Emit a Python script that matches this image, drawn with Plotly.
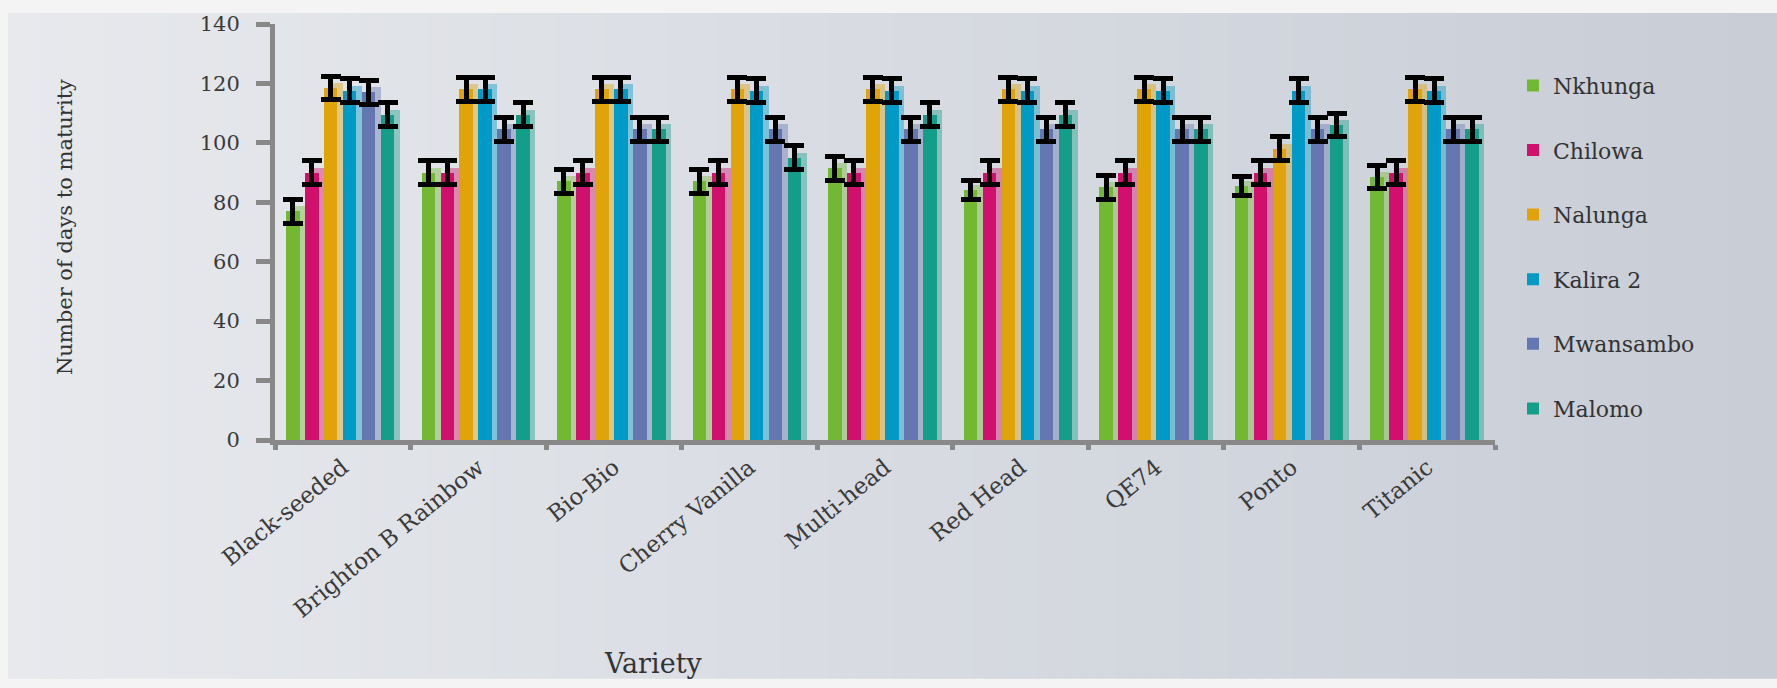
import plotly.graph_objects as go

# Varieties on the x axis
varieties = ["Black-seeded", "Brighton B Rainbow", "Bio-Bio", "Cherry Vanilla",
             "Multi-head", "Red Head", "QE74", "Ponto", "Titanic"]

# Days to maturity per site (mean) and error half-widths
nkhunga = [77, 90, 87, 87, 91.5, 84, 85, 85.5, 88.5]
chilowa = [90, 90, 90, 90, 90, 90, 90, 90, 90]
nalunga = [118.5, 118, 118, 118, 118, 118, 118, 98, 118]
kalira2 = [117.5, 118, 118, 117.5, 117.5, 117.5, 117.5, 117.5, 117.5]
mwansambo = [117, 104.5, 104.5, 104.5, 104.5, 104.5, 104.5, 104.5, 104.5]
malomo = [109.5, 109.5, 104.5, 95, 109.5, 109.5, 104.5, 106, 104.5]

err_nkhunga = [4, 4, 4, 4, 4, 3.2, 4, 3.2, 4]
err_chilowa = [4, 4, 4, 4, 4, 4, 4, 4, 4]
err_nalunga = [4, 4, 4, 4, 4, 4, 4, 4, 4]
err_kalira2 = [4, 4, 4, 4, 4, 4, 4, 4, 4]
err_mwansambo = [4, 4, 4, 4, 4, 4, 4, 4, 4]
err_malomo = [4, 4, 4, 4, 4, 4, 4, 4, 4]

sites = ["Nkhunga", "Chilowa", "Nalunga", "Kalira 2", "Mwansambo", "Malomo"]
values = [nkhunga, chilowa, nalunga, kalira2, mwansambo, malomo]
errors = [err_nkhunga, err_chilowa, err_nalunga, err_kalira2, err_mwansambo, err_malomo]
colors = ["#72b833", "#d0106c", "#e1a30a", "#009ac6", "#6577b0", "#149e8a"]

W, H = 1777, 688
L, R, T, B = 275, 282, 20, 248
PW, PH = W - L - R, H - T - B


def px_x(p):
    return (p - L) / PW


def px_y(p):
    return (H - B - p) / PH


def rgba(hexc, a):
    h = hexc.lstrip("#")
    r, g, b = int(h[0:2], 16), int(h[2:4], 16), int(h[4:6], 16)
    return f"rgba({r},{g},{b},{a})"


FONT = "DejaVu Serif"
start0, period, bw, shadow_dx, shadow_dy = -0.419, 0.140, 0.100, 0.040, 1.7

fig = go.Figure()

# soft shadow behind every bar
for j, (name, vals, col) in enumerate(zip(sites, values, colors)):
    fig.add_trace(go.Bar(
        x=varieties, y=[v + shadow_dy for v in vals],
        offset=start0 + j * period + shadow_dx, width=bw,
        marker=dict(color=rgba(col, 0.42), line=dict(width=0)),
        showlegend=False, hoverinfo="skip",
    ))

# main bars with error bars
for j, (name, vals, errs, col) in enumerate(zip(sites, values, errors, colors)):
    fig.add_trace(go.Bar(
        x=varieties, y=vals, name=name,
        offset=start0 + j * period, width=bw,
        marker=dict(color=col, line=dict(width=0)),
        error_y=dict(type="data", array=errs, visible=True,
                     color="#000000", thickness=5, width=10),
        legendgroup=name,
    ))

# horizontal background gradient
shapes = []
n = 110
x_left, x_right = 8, W
top, bottom = 9, 681
c0 = (0xe7, 0xe9, 0xed)
c1 = (0xc8, 0xcd, 0xd6)
for i in range(n):
    a = x_left + (x_right - x_left) * i / n
    b = x_left + (x_right - x_left) * (i + 1) / n
    t = i / (n - 1)
    c = tuple(round(c0[k] + (c1[k] - c0[k]) * t) for k in range(3))
    shapes.append(dict(
        type="rect", xref="paper", yref="paper", layer="below",
        x0=px_x(a), x1=px_x(b + 1), y0=px_y(bottom), y1=px_y(top),
        fillcolor=f"rgb({c[0]},{c[1]},{c[2]})", line=dict(width=0),
    ))

fig.update_layout(
    width=W, height=H, autosize=False,
    margin=dict(l=L, r=R, t=T, b=B, pad=0),
    paper_bgcolor="#f4f4f4", plot_bgcolor="rgba(0,0,0,0)",
    barmode="overlay", bargap=0,
    shapes=shapes,
    font=dict(family=FONT, size=20, color="#3a3a3a"),
    xaxis=dict(
        type="category", range=[-0.5, 8.5],
        tickson="boundaries", ticks="outside", ticklen=5, tickwidth=5,
        tickcolor="#888888", showline=True, linewidth=5, linecolor="#888888",
        showgrid=False, zeroline=False, tickangle=-39,
        tickfont=dict(family=FONT, size=23, color="#3a3a3a"),
    ),
    yaxis=dict(
        range=[0, 140], tickvals=[0, 20, 40, 60, 80, 100, 120, 140],
        ticks="outside", ticklen=14, tickwidth=5, tickcolor="#888888",
        showline=True, linewidth=5, linecolor="#888888",
        showgrid=False, zeroline=False, ticklabelstandoff=12,
        tickfont=dict(family=FONT, size=21, color="#3a3a3a"),
    ),
    legend=dict(
        x=px_x(1513), y=px_y(61), xanchor="left", yanchor="top",
        bgcolor="rgba(0,0,0,0)", tracegroupgap=33, itemwidth=30,
        font=dict(family=FONT, size=22, color="#333333"),
    ),
    annotations=[
        dict(text="Number of days to maturity", xref="paper", yref="paper",
             x=px_x(65), y=px_y(225), textangle=-90, showarrow=False,
             font=dict(family=FONT, size=21, color="#333333"),
             xanchor="center", yanchor="middle"),
        dict(text="Variety", xref="paper", yref="paper",
             x=px_x(653), y=px_y(666), showarrow=False,
             font=dict(family=FONT, size=27, color="#333333"),
             xanchor="center", yanchor="middle"),
    ],
)

fig.write_html("out.html")
